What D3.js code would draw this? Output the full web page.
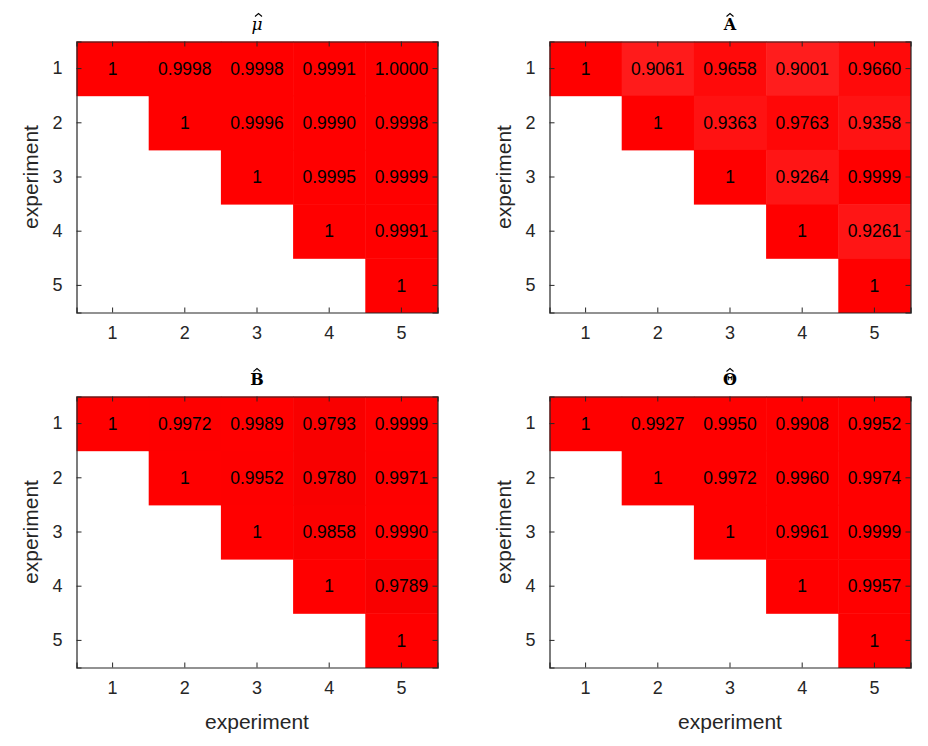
<!DOCTYPE html>
<html>
<head>
<meta charset="utf-8">
<script src="https://cdn.jsdelivr.net/npm/d3@7"></script>
<style>
  body { margin: 0; background: #fff; }
  svg text { font-family: "Liberation Sans", Arial, sans-serif; }
</style>
</head>
<body>
<div id="chart"></div>
<script>
// experiments on both axes
var experiments = [1, 2, 3, 4, 5];
var titles = ["\u03BC", "A", "B", "\u0398"];

// upper triangle values, row by row (null = empty cell)
var muValues = [
  [1, 0.9998, 0.9998, 0.9991, 1.0000],
  [null, 1, 0.9996, 0.9990, 0.9998],
  [null, null, 1, 0.9995, 0.9999],
  [null, null, null, 1, 0.9991],
  [null, null, null, null, 1]
];
var aValues = [
  [1, 0.9061, 0.9658, 0.9001, 0.9660],
  [null, 1, 0.9363, 0.9763, 0.9358],
  [null, null, 1, 0.9264, 0.9999],
  [null, null, null, 1, 0.9261],
  [null, null, null, null, 1]
];
var bValues = [
  [1, 0.9972, 0.9989, 0.9793, 0.9999],
  [null, 1, 0.9952, 0.9780, 0.9971],
  [null, null, 1, 0.9858, 0.9990],
  [null, null, null, 1, 0.9789],
  [null, null, null, null, 1]
];
var thetaValues = [
  [1, 0.9927, 0.9950, 0.9908, 0.9952],
  [null, 1, 0.9972, 0.9960, 0.9974],
  [null, null, 1, 0.9961, 0.9999],
  [null, null, null, 1, 0.9957],
  [null, null, null, null, 1]
];

var width = 928, height = 746;
var svg = d3.select("#chart").append("svg")
    .attr("width", width).attr("height", height);

var panels = [
  {data: muValues, title: titles[0], x: 76.5, y: 41.5, italic: true, color: d3.scaleLinear().domain([0.99, 1]).range(["#ff0000", "#ff0000"])},
  {data: aValues, title: titles[1], x: 549.5, y: 41.5, color: d3.scaleLinear().domain([0.90, 1]).range(["#ff1d1d", "#ff0000"])},
  {data: bValues, title: titles[2], x: 76.5, y: 396.5, color: d3.scaleLinear().domain([0.978, 1]).range(["#f90000", "#ff0000"])},
  {data: thetaValues, title: titles[3], x: 549.5, y: 396.5, color: d3.scaleLinear().domain([0.99, 1]).range(["#ff0000", "#ff0000"])}
];
var pw = 361, ph = 271;

panels.forEach(function(p, pi) {
  var g = svg.append("g").attr("transform", "translate(" + p.x + "," + p.y + ")");

  var x = d3.scaleBand().domain(experiments).range([0, pw]);
  var y = d3.scaleBand().domain(experiments).range([0, ph]);

  var cells = [];
  p.data.forEach(function(row, i) {
    row.forEach(function(v, j) {
      if (v !== null) cells.push({r: experiments[i], c: experiments[j], v: v});
    });
  });

  g.selectAll("rect.cell").data(cells).enter().append("rect")
    .attr("class", "cell")
    .attr("x", function(d) { return x(d.c); })
    .attr("y", function(d) { return y(d.r); })
    .attr("width", x.bandwidth() + 0.5)
    .attr("height", y.bandwidth() + 0.5)
    .attr("fill", function(d) { return p.color(d.v); });

  g.selectAll("text.val").data(cells).enter().append("text")
    .attr("class", "val")
    .attr("x", function(d) { return x(d.c) + x.bandwidth() / 2; })
    .attr("y", function(d) { return y(d.r) + y.bandwidth() / 2; })
    .attr("text-anchor", "middle")
    .attr("dy", "0.35em")
    .style("font-size", "17.5px")
    .style("fill", "#000")
    .text(function(d) { return d.r === d.c ? "1" : d.v.toFixed(4); });

  // axes with inward ticks on all four sides
  var axColor = "#262626";
  var bottom = g.append("g").attr("transform", "translate(0," + ph + ")")
    .call(d3.axisBottom(x).tickSize(-5).tickPadding(14));
  var top = g.append("g").call(d3.axisTop(x).tickSize(-5).tickFormat(""));
  var left = g.append("g").call(d3.axisLeft(y).tickSize(-5).tickPadding(14));
  var right = g.append("g").attr("transform", "translate(" + pw + ",0)")
    .call(d3.axisRight(y).tickSize(-5).tickFormat(""));

  [bottom, top, left, right].forEach(function(a) {
    a.select(".domain").attr("stroke", axColor).attr("stroke-width", 1.2);
    a.selectAll(".tick line").attr("stroke", axColor);
    a.selectAll("text").style("font-size", "18px").style("fill", axColor)
      .style("font-family", "Liberation Sans, Arial, sans-serif");
  });

  // title: symbol with a hat drawn above it
  g.append("text")
    .attr("x", pw / 2).attr("y", -12)
    .attr("text-anchor", "middle")
    .style("font-family", "DejaVu Serif, serif")
    .style("font-size", p.italic ? "17px" : "16px")
    .style("font-weight", p.italic ? "normal" : "bold")
    .style("font-style", p.italic ? "italic" : "normal")
    .text(p.title);
  var hx = pw / 2 + (p.italic ? 1.5 : 0), hy = -28;
  g.append("path")
    .attr("d", "M" + (hx - 3.5) + "," + (hy + 3) + "L" + hx + "," + hy + "L" + (hx + 3.5) + "," + (hy + 3))
    .attr("fill", "none")
    .attr("stroke", "#000")
    .attr("stroke-width", 1.1);

  g.append("text")
    .attr("transform", "translate(-39," + ph / 2 + ") rotate(-90)")
    .attr("text-anchor", "middle")
    .style("font-size", "21px")
    .style("fill", axColor)
    .text("experiment");

  if (pi >= 2) {
    g.append("text")
      .attr("x", pw / 2).attr("y", ph + 61)
      .attr("text-anchor", "middle")
      .style("font-size", "21px")
      .style("fill", axColor)
      .text("experiment");
  }
});
</script>
</body>
</html>
